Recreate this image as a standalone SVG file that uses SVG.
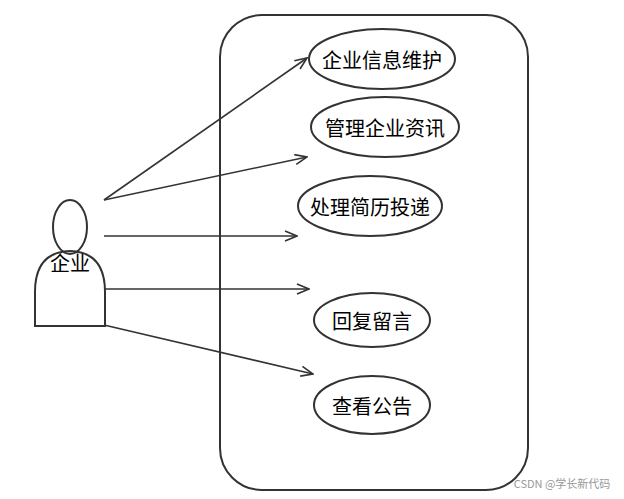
<svg xmlns="http://www.w3.org/2000/svg" width="624" height="499" viewBox="0 0 624 499">
<style>
.s{fill:none;stroke:#333;stroke-width:2}
.t{font-family:"Noto Sans CJK SC",sans-serif;font-size:20px;fill:#000;text-anchor:middle;dominant-baseline:central}
.c{fill:none;stroke:#333;stroke-width:1.6;marker-end:url(#a)}
</style>
<defs><marker id="a" markerWidth="14" markerHeight="12" refX="13" refY="6" orient="auto" markerUnits="userSpaceOnUse"><path d="M1,1 L13,6 L1,11" fill="none" stroke="#333" stroke-width="1.6"/></marker></defs>
<rect width="624" height="499" fill="#fff"/>
<g id="system"><rect class="s" x="220" y="15" width="308" height="475" rx="42"/></g>
<g id="actor"><ellipse class="s" cx="70" cy="227" rx="17" ry="27"/><path class="s" d="M35,326 L35,292 Q35,252 70,251 Q105,252 105,292 L105,326 Z" fill="#fff"/><text class="t" x="70" y="262">企业</text></g>
<g id="uc1"><ellipse class="s" cx="382" cy="59" rx="73" ry="30"/><text class="t" x="382" y="59">企业信息维护</text></g>
<g id="uc2"><ellipse class="s" cx="385" cy="127" rx="74" ry="30"/><text class="t" x="385" y="127">管理企业资讯</text></g>
<g id="uc3"><ellipse class="s" cx="370" cy="206" rx="72" ry="30"/><text class="t" x="370" y="206">处理简历投递</text></g>
<g id="uc4"><ellipse class="s" cx="372" cy="320" rx="58" ry="27"/><text class="t" x="372" y="320">回复留言</text></g>
<g id="uc5"><ellipse class="s" cx="372" cy="405" rx="58" ry="29"/><text class="t" x="372" y="405">查看公告</text></g>
<g id="connectors">
<line class="c" x1="104" y1="200" x2="307" y2="58"/>
<line class="c" x1="104" y1="200" x2="307" y2="157"/>
<line class="c" x1="104" y1="236" x2="297" y2="236"/>
<line class="c" x1="104" y1="289" x2="309" y2="289"/>
<line class="c" x1="104" y1="325" x2="313" y2="374"/>
</g>
<text x="562" y="488" style="font-family:'Noto Sans CJK SC',sans-serif;font-size:11px;fill:#999;text-anchor:middle">CSDN @学长新代码</text>
</svg>
